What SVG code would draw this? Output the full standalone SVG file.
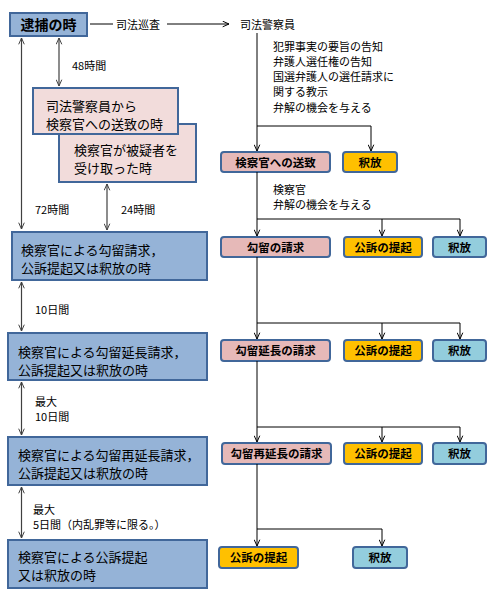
<svg xmlns="http://www.w3.org/2000/svg" width="500" height="599" viewBox="0 0 500 599">
<defs>
<marker id="arr" viewBox="0 0 10 10" refX="10" refY="5" markerWidth="7" markerHeight="7" markerUnits="userSpaceOnUse" orient="auto-start-reverse">
<path d="M1,1 L10,5 L1,9" fill="none" stroke="context-stroke" stroke-width="1.4"/>
</marker>
<style>
text{font-family:"Noto Sans CJK JP","Noto Sans",sans-serif;fill:#000}
.main{fill:#95b3d7;stroke:#41679a;stroke-width:2}
.pmain{fill:#f2dcdb;stroke:#41679a;stroke-width:2}
.sb{stroke:#41679a;stroke-width:2}
.pink{fill:#e6b9b8}
.org{fill:#ffc000}
.blu{fill:#93cddd}
.mt{font-size:13px}
.st{font-size:11.5px;font-weight:bold;text-anchor:middle}
.lb{font-size:11px}
.gl{stroke:#404040;stroke-width:1.2;fill:none}
.bl{stroke:#000;stroke-width:1;fill:none}
</style>
</defs>
<rect width="500" height="599" fill="#fff"/>

<g id="n-arrest"><rect class="main" x="10" y="13" width="77" height="23"/><text x="48.5" y="30" font-size="14" font-weight="bold" text-anchor="middle">逮捕の時</text></g>
<g id="n-received"><rect class="pmain" x="59" y="124" width="137" height="58"/><text class="mt" x="74" y="155">検察官が被疑者を</text><text class="mt" x="74" y="173">受け取った時</text></g>
<g id="n-sent"><rect class="pmain" x="33" y="88" width="145" height="46"/><text class="mt" x="46" y="110.5">司法警察員から</text><text class="mt" x="46" y="128.5">検察官への送致の時</text></g>
<g id="n-t1"><rect class="main" x="12" y="232" width="195" height="48"/><text class="mt" x="21" y="255">検察官による勾留請求，</text><text class="mt" x="21" y="273">公訴提起又は釈放の時</text></g>
<g id="n-t2"><rect class="main" x="8" y="333" width="199" height="47"/><text class="mt" x="18" y="357">検察官による勾留延長請求，</text><text class="mt" x="18" y="375">公訴提起又は釈放の時</text></g>
<g id="n-t3"><rect class="main" x="8" y="437" width="199" height="48"/><text class="mt" x="18" y="459.5">検察官による勾留再延長請求，</text><text class="mt" x="18" y="477.5">公訴提起又は釈放の時</text></g>
<g id="n-t4"><rect class="main" x="8" y="540" width="199" height="48"/><text class="mt" x="18" y="562">検察官による公訴提起</text><text class="mt" x="18" y="580">又は釈放の時</text></g>

<g id="r1a"><rect class="sb pink" x="221" y="152" width="109" height="20" rx="3"/><text class="st" x="275.5" y="166.5">検察官への送致</text></g>
<g id="r1b"><rect class="sb org" x="343" y="152" width="54" height="20" rx="3"/><text class="st" x="370" y="166.5">釈放</text></g>
<g id="r2a"><rect class="sb pink" x="221" y="237" width="109" height="20" rx="3"/><text class="st" x="275.5" y="251.5">勾留の請求</text></g>
<g id="r2b"><rect class="sb org" x="344" y="237" width="78" height="20" rx="3"/><text class="st" x="383" y="251.5">公訴の提起</text></g>
<g id="r2c"><rect class="sb blu" x="433" y="237" width="53" height="20" rx="3"/><text class="st" x="459.5" y="251.5">釈放</text></g>
<g id="r3a"><rect class="sb pink" x="221" y="340" width="109" height="21" rx="3"/><text class="st" x="275.5" y="355">勾留延長の請求</text></g>
<g id="r3b"><rect class="sb org" x="344" y="340" width="78" height="21" rx="3"/><text class="st" x="383" y="355">公訴の提起</text></g>
<g id="r3c"><rect class="sb blu" x="433" y="340" width="53" height="21" rx="3"/><text class="st" x="459.5" y="355">釈放</text></g>
<g id="r4a"><rect class="sb pink" x="222" y="443" width="109" height="21" rx="3"/><text class="st" x="276.5" y="458">勾留再延長の請求</text></g>
<g id="r4b"><rect class="sb org" x="344" y="443" width="78" height="21" rx="3"/><text class="st" x="383" y="458">公訴の提起</text></g>
<g id="r4c"><rect class="sb blu" x="433" y="443" width="53" height="21" rx="3"/><text class="st" x="459.5" y="458">釈放</text></g>
<g id="r5a"><rect class="sb org" x="219" y="547" width="79" height="21" rx="3"/><text class="st" x="258.5" y="562">公訴の提起</text></g>
<g id="r5b"><rect class="sb blu" x="353" y="547" width="54" height="21" rx="3"/><text class="st" x="380" y="562">釈放</text></g>

<g id="connectors">
<path class="bl" d="M90,24 H113"/>
<path class="bl" d="M167,24 H229" marker-end="url(#arr)"/>
<path class="gl" d="M21.5,38 V229" marker-start="url(#arr)" marker-end="url(#arr)"/>
<path class="gl" d="M59,38 V86" marker-start="url(#arr)" marker-end="url(#arr)"/>
<path class="gl" d="M107,184 V230" marker-start="url(#arr)" marker-end="url(#arr)"/>
<path class="gl" d="M21.5,282 V331" marker-start="url(#arr)" marker-end="url(#arr)"/>
<path class="gl" d="M21.5,382 V435" marker-start="url(#arr)" marker-end="url(#arr)"/>
<path class="gl" d="M21.5,487 V538" marker-start="url(#arr)" marker-end="url(#arr)"/>

<path class="bl" d="M257,33 V151" marker-end="url(#arr)"/>
<path class="bl" d="M257,126 H371 V151" marker-end="url(#arr)"/>
<path class="bl" d="M257,172 V236" marker-end="url(#arr)"/>
<path class="bl" d="M257,219 H382 V236" marker-end="url(#arr)"/>
<path class="bl" d="M382,219 H460 V236" marker-end="url(#arr)"/>
<path class="bl" d="M257,257 V339" marker-end="url(#arr)"/>
<path class="bl" d="M257,323 H382 V339" marker-end="url(#arr)"/>
<path class="bl" d="M382,323 H460 V339" marker-end="url(#arr)"/>
<path class="bl" d="M257,361 V442" marker-end="url(#arr)"/>
<path class="bl" d="M257,427 H382 V442" marker-end="url(#arr)"/>
<path class="bl" d="M382,427 H460 V442" marker-end="url(#arr)"/>
<path class="bl" d="M257,464 V546" marker-end="url(#arr)"/>
<path class="bl" d="M257,529 H382 V546" marker-end="url(#arr)"/>
</g>

<g id="labels">
<text class="lb" x="116" y="28.5">司法巡査</text>
<text class="lb" x="240" y="28.5">司法警察員</text>
<text class="lb" x="273" y="50.5">犯罪事実の要旨の告知</text>
<text class="lb" x="273" y="65.8">弁護人選任権の告知</text>
<text class="lb" x="273" y="81">国選弁護人の選任請求に</text>
<text class="lb" x="273" y="96.3">関する教示</text>
<text class="lb" x="273" y="111.6">弁解の機会を与える</text>
<text class="lb" x="273" y="193.5">検察官</text>
<text class="lb" x="273" y="209">弁解の機会を与える</text>
<text class="lb" x="72" y="69.5">48時間</text>
<text class="lb" x="35" y="214">72時間</text>
<text class="lb" x="121" y="214">24時間</text>
<text class="lb" x="35" y="314">10日間</text>
<text class="lb" x="35" y="406">最大</text>
<text class="lb" x="35" y="421">10日間</text>
<text class="lb" x="33" y="514">最大</text>
<text class="lb" x="33" y="529">5日間（内乱罪等に限る。）</text>
</g>
</svg>
